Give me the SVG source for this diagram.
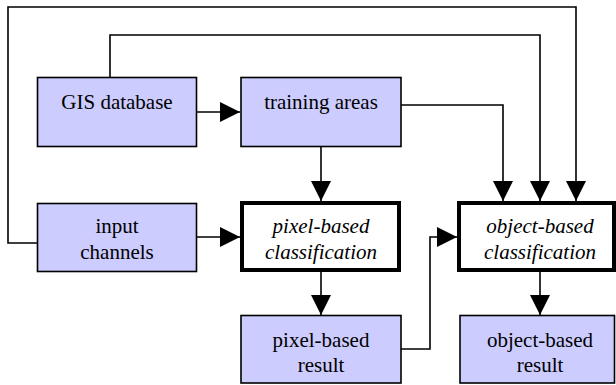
<svg xmlns="http://www.w3.org/2000/svg" width="616" height="385" viewBox="0 0 616 385">
<style>
.box{fill:#ccccff;stroke:#000;stroke-width:1.6}
.tbox{fill:#fff;stroke:#000;stroke-width:4}
.t{font-family:"Liberation Serif","Times New Roman",serif;font-size:21px;text-anchor:middle;fill:#000}
.i{font-style:italic}
.c{fill:none;stroke:#000;stroke-width:1.6;marker-end:url(#ah)}
</style>
<defs>
<marker id="ah" markerUnits="userSpaceOnUse" markerWidth="20" markerHeight="20" viewBox="0 0 20 20" refX="20" refY="10" orient="auto">
<polygon points="0,0 20,10 0,20" fill="#000"/>
</marker>
</defs>
<rect width="616" height="385" fill="#fff"/>
<g id="connectors">
<path class="c" d="M197,112 H240"/>
<path class="c" d="M197,237 H240"/>
<path class="c" d="M321,147 V201"/>
<path class="c" d="M321,272 V315"/>
<path class="c" d="M401,105 H503 V201"/>
<path class="c" d="M110,77 V35 H540 V201"/>
<path class="c" d="M37,243 H8 V7 H576 V201"/>
<path class="c" d="M401,349 H430 V237 H457"/>
<path class="c" d="M540,272 V315"/>
</g>
<g id="gis">
<rect class="box" x="37.5" y="77.5" width="159" height="69"/>
<text class="t" x="117" y="108.5">GIS database</text>
</g>
<g id="training">
<rect class="box" x="241" y="77.5" width="160" height="69"/>
<text class="t" x="321" y="108.5">training areas</text>
</g>
<g id="input">
<rect class="box" x="37.5" y="203.5" width="159" height="68"/>
<text class="t" x="117" y="233">input</text>
<text class="t" x="117" y="258.5">channels</text>
</g>
<g id="pixelclass">
<rect class="tbox" x="242" y="203" width="157" height="67"/>
<text class="t i" x="321" y="233">pixel-based</text>
<text class="t i" x="321" y="258.5">classification</text>
</g>
<g id="objectclass">
<rect class="tbox" x="459" y="203" width="155" height="67"/>
<text class="t i" x="540" y="233">object-based</text>
<text class="t i" x="540" y="258.5">classification</text>
</g>
<g id="pixelresult">
<rect class="box" x="241" y="315.5" width="160" height="67.5"/>
<text class="t" x="321" y="346.5">pixel-based</text>
<text class="t" x="321" y="372">result</text>
</g>
<g id="objectresult">
<rect class="box" x="460" y="315.5" width="154.5" height="67.5"/>
<text class="t" x="540" y="346.5">object-based</text>
<text class="t" x="540" y="372">result</text>
</g>
</svg>
